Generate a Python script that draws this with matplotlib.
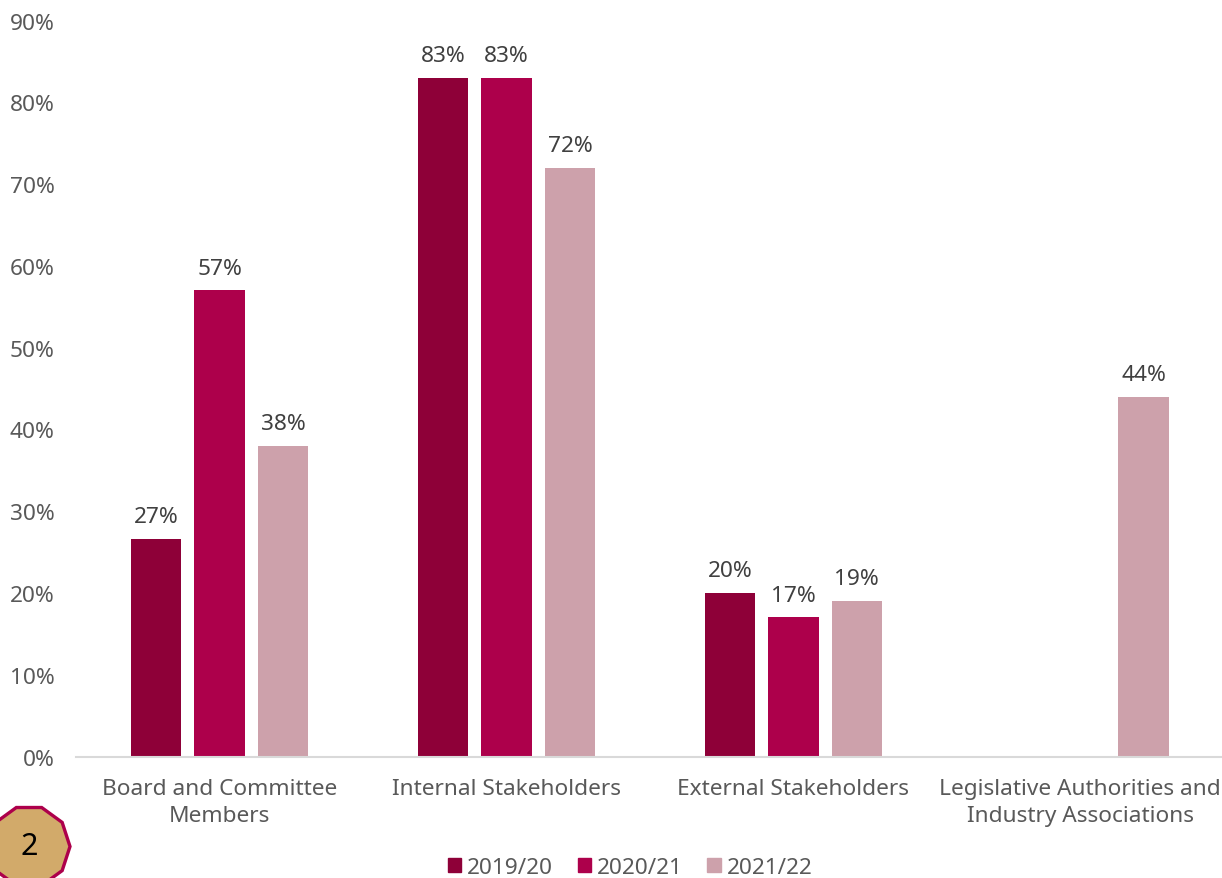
import matplotlib
matplotlib.use("Agg")
import matplotlib.pyplot as plt
import numpy as np
from matplotlib.patches import RegularPolygon

plt.rcParams['font.family'] = ['Noto Sans', 'DejaVu Sans']

categories = ["Board and Committee\nMembers", "Internal Stakeholders", "External Stakeholders",
              "Legislative Authorities and\nIndustry Associations"]
years = ["2019/20", "2020/21", "2021/22"]
vals_1920 = [26.6, 83, 20, None]
vals_2021 = [57, 83, 17, None]
vals_2122 = [38, 72, 19, 44]
colors = ["#8E0038", "#AD004B", "#CDA1AB"]
yticks = list(range(0, 100, 10))
badge_text = "2"
fs = 16.3

fig = plt.figure(figsize=(12.22, 8.79), dpi=100)
ax = fig.add_axes([76.3 / 1222, 1 - 757.5 / 879, 1147.2 / 1222, (757.5 - 21.5) / 879])

x = np.arange(len(categories))
w = 50.5 / 286.8
step = 63.5 / 286.8
series = [vals_1920, vals_2021, vals_2122]
for i, vals in enumerate(series):
    for j in range(len(categories)):
        if vals[j] is None:
            continue
        ax.bar(x[j] + (i - 1) * step, vals[j], width=w, color=colors[i])
        ax.text(x[j] + (i - 1) * step, vals[j] + 1.45, f"{vals[j]:.0f}%", ha='center', va='bottom',
                fontsize=fs, color='#404040')

ax.set_xlim(-0.5, 3.5)
ax.set_ylim(0, 90)
ax.set_yticks(yticks)
ax.set_yticklabels([f"{v}%" for v in yticks], fontsize=fs, color='#595959')
ax.set_xticks(x)
ax.set_xticklabels(categories, fontsize=fs, color='#595959', linespacing=1.4)
ax.tick_params(axis='both', length=0)
ax.tick_params(axis='x', pad=15.5)
ax.tick_params(axis='y', pad=15.5)
for s in ['top', 'right', 'left']:
    ax.spines[s].set_visible(False)
ax.spines['bottom'].set_color('#D9D9D9')
ax.spines['bottom'].set_linewidth(1.5)

# legend squares and labels along the bottom
handles = [plt.Rectangle((0, 0), 1, 1, color=c) for c in colors]
fig.legend(handles, years, loc='lower center', bbox_to_anchor=(630 / 1222, -0.0235), ncol=3, frameon=False,
           fontsize=fs, labelcolor='#595959', handlelength=0.6, handleheight=0.6,
           handletextpad=0.25, columnspacing=1.08)

# numbered badge in the corner
bax = fig.add_axes([0, 0, 1, 1])
bax.set_xlim(0, 1222)
bax.set_ylim(879, 0)
bax.axis('off')
bax.patch.set_alpha(0)
bax.add_patch(RegularPolygon((29, 847.5), 10, radius=41, orientation=np.pi / 10,
                             facecolor='#D2AA6A', edgecolor='#AD004B', linewidth=2.4, clip_on=False))
bax.text(29, 847, badge_text, ha='center', va='center', fontsize=22, color='#000000')

fig.savefig("out.png", dpi=100)
